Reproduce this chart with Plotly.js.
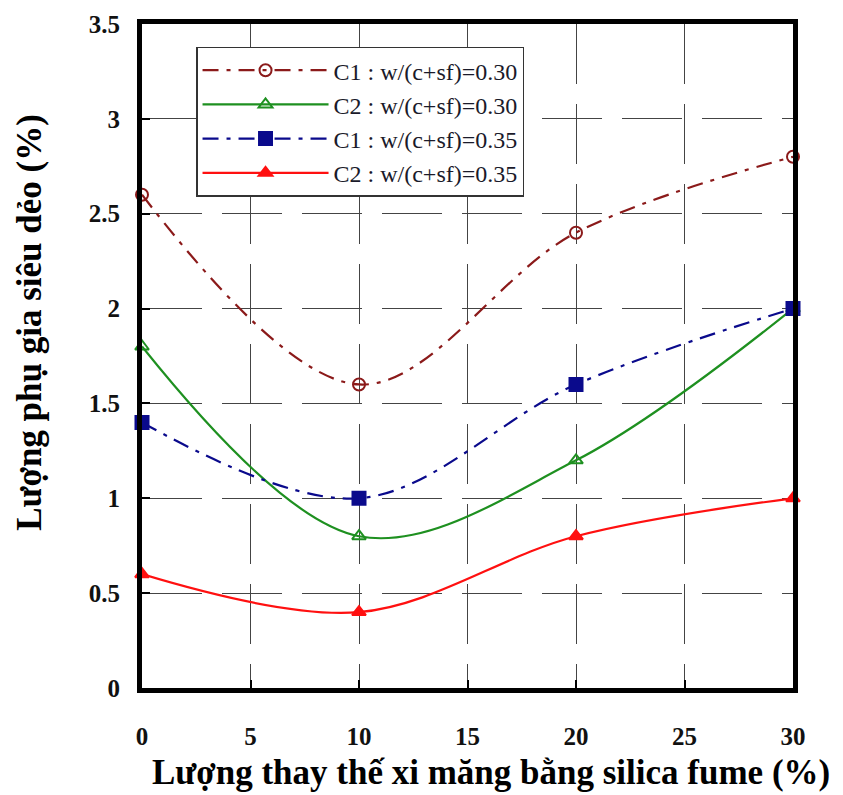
<!DOCTYPE html>
<html><head><meta charset="utf-8">
<script src="https://cdn.plot.ly/plotly-3.0.1.min.js"></script>
<style>body{margin:0;background:#fff}#chart{width:843px;height:795px}</style>
</head><body><div id="chart"></div>
<script>
const xVals = [0, 10, 20, 30];
const c1_030 = [2.6, 1.6, 2.4, 2.8];
const c2_030 = [1.8, 0.8, 1.2, 2.0];
const c1_035 = [1.4, 1.0, 1.6, 2.0];
const c2_035 = [0.6, 0.4, 0.8, 1.0];
const names = ["C1 : w/(c+sf)=0.30", "C2 : w/(c+sf)=0.30", "C1 : w/(c+sf)=0.35", "C2 : w/(c+sf)=0.35"];
const xTicks = [0, 5, 10, 15, 20, 25, 30];
const yTicks = [0, 0.5, 1, 1.5, 2, 2.5, 3, 3.5];
const yTickText = ["0", "0.5", "1", "1.5", "2", "2.5", "3", "3.5"];
const xTitle = "Lượng thay thế xi măng bằng silica fume (%)";
const yTitle = "Lượng phụ gia siêu dẻo (%)";

const serif = "Liberation Serif, Times New Roman, serif";
function tr(y, name, color, dash, symbol, msize) {
  return {x: xVals, y: y, name: name, type: 'scatter', mode: 'lines+markers',
    line: {color: color, width: 2.2, dash: dash, shape: 'spline', smoothing: 1},
    marker: {symbol: symbol, size: msize, color: color, line: {color: color, width: 2}},
    cliponaxis: false};
}
const data = [
  tr(c1_030, names[0], '#8B1A1A', '16px,8px,4px,8px', 'circle-open', 12),
  tr(c2_030, names[1], '#1E9020', 'solid', 'triangle-up-open', 12),
  tr(c1_035, names[2], '#0A0A8C', '16px,8px,4px,8px', 'square', 13),
  tr(c2_035, names[3], '#FF1010', 'solid', 'triangle-up', 12)
];
const axisCommon = {
  showgrid: true, gridcolor: '#444', gridwidth: 1.2, griddash: '60px,20px',
  zeroline: false, showline: true, linecolor: '#000', linewidth: 5, mirror: true,
  ticks: 'inside', ticklen: 8, tickcolor: '#000', tickwidth: 1.5,
  tickfont: {family: serif, size: 25, color: '#111', weight: 'bold'}
};
const layout = {
  width: 843, height: 795,
  margin: {l: 142, r: 50, t: 24, b: 107},
  paper_bgcolor: '#fff', plot_bgcolor: '#fff',
  showlegend: true,
  legend: {x: 0.083, y: 0.966, xanchor: 'left', yanchor: 'top',
    bgcolor: '#fff', bordercolor: '#333', borderwidth: 1.5,
    font: {family: serif, size: 24, color: '#1a1a2a'}, itemwidth: 126, tracegroupgap: 0},
  xaxis: Object.assign({}, axisCommon, {range: [0, 30], tickvals: xTicks, ticktext: xTicks.map(String),
    ticklabelstandoff: 22}),
  yaxis: Object.assign({}, axisCommon, {range: [0, 3.5], tickvals: yTicks, ticktext: yTickText,
    ticklabelstandoff: 12}),
  annotations: [
    {text: '<b>' + xTitle + '</b>', xref: 'paper', yref: 'paper', x: 0.536, y: -0.128,
     xanchor: 'center', yanchor: 'middle', showarrow: false,
     font: {family: serif, size: 35, color: '#000'}},
    {text: '<b>' + yTitle + '</b>', xref: 'paper', yref: 'paper', x: -0.172, y: 0.55,
     xanchor: 'center', yanchor: 'middle', showarrow: false, textangle: -90,
     font: {family: serif, size: 35, color: '#000'}}
  ]
};
Plotly.newPlot('chart', data, layout, {displayModeBar: false});
</script></body></html>
